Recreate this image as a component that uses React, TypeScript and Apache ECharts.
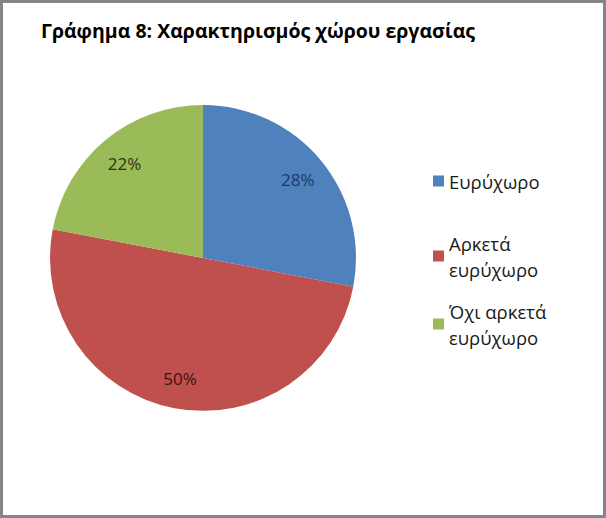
import { useEffect, useRef } from "react";
import * as echarts from "echarts";

const titleText = "Γράφημα 8: Χαρακτηρισμός χώρου εργασίας";
const categories = ["Ευρύχωρο", "Αρκετά\nευρύχωρο", "Όχι αρκετά\nευρύχωρο"];
const legendNames = ["Ευρύχωρο", "Αρκετά\nευρύχωρο", "Όχι αρκετά\nευρύχωρο"];
const percents = [28, 50, 22];
const sliceColors = ["#4F81BD", "#C0504D", "#9BBB59"];
const labelColors = ["#1B3A66", "#3A1414", "#2A3512"];
const legendTops = [163, 212, 280];

export default function App() {
  const chartRef = useRef<HTMLDivElement>(null);

  useEffect(() => {
    document.body.style.margin = "0";
    if (!chartRef.current) return;
    const chart = echarts.init(chartRef.current, undefined, { renderer: "svg" });

    const font = "'Open Sans', 'Noto Sans', sans-serif";

    const pieData = categories.map((name, i) => ({
      name,
      value: percents[i],
      itemStyle: { color: sliceColors[i] },
    }));

    const labelData = categories.map((name, i) => ({
      name,
      value: percents[i],
      itemStyle: { color: "rgba(0,0,0,0)" },
      label: { color: labelColors[i] },
    }));

    // one legend per item so the icon lines up with the first text line
    const legends = legendNames.map((name, i) => ({
      data: [name],
      orient: "vertical",
      left: 428,
      top: legendTops[i],
      itemWidth: 11,
      itemHeight: 11,
      itemGap: 0,
      icon: "rect",
      selectedMode: false,
      textStyle: {
        fontFamily: font,
        fontSize: 18.5,
        color: "#1a1a1a",
        lineHeight: 26,
        padding: name.includes("\n") ? [26, 0, 0, 0] : 0,
      },
    }));

    chart.setOption({
      animation: false,
      backgroundColor: "#ffffff",
      title: {
        text: titleText,
        left: 36,
        top: 15,
        textStyle: {
          fontFamily: font,
          fontSize: 19.5,
          fontWeight: "bold",
          color: "#000000",
        },
      },
      legend: legends,
      graphic: [
        {
          type: "rect",
          shape: { x: 1.5, y: 1.5, width: 603, height: 515 },
          style: { fill: "none", stroke: "#858585", lineWidth: 3 },
          silent: true,
        },
      ],
      series: [
        {
          type: "pie",
          center: [203, 258],
          radius: 153,
          startAngle: 90,
          clockwise: true,
          data: pieData,
          label: { show: false },
          labelLine: { show: false },
          silent: true,
        },
        {
          type: "pie",
          center: [203, 258],
          radius: [87, 153],
          startAngle: 90,
          clockwise: true,
          data: labelData,
          legendHoverLink: false,
          silent: true,
          label: {
            show: true,
            position: "inside",
            formatter: "{c}%",
            fontFamily: font,
            fontSize: 17,
          },
          labelLine: { show: false },
        },
      ],
    });

    return () => chart.dispose();
  }, []);

  return <div ref={chartRef} style={{ width: "606px", height: "518px" }} />;
}
